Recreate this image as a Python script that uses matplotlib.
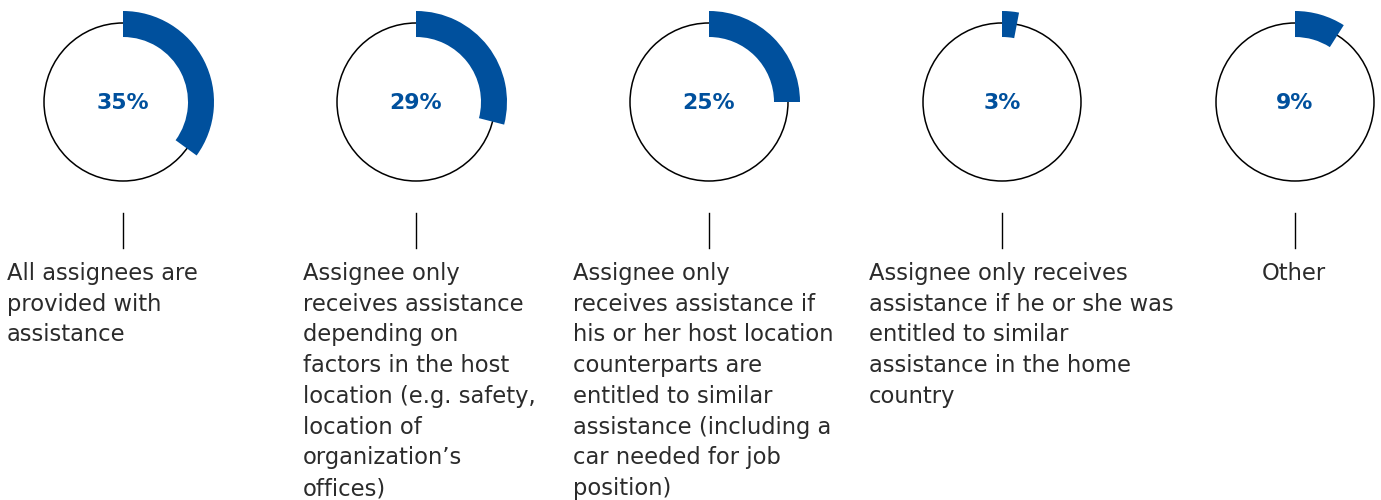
import matplotlib
matplotlib.use("Agg")
import matplotlib.pyplot as plt
from matplotlib.patches import Wedge, Circle

plt.rcParams['font.family'] = ['DejaVu Sans']

values = [35, 29, 25, 3, 9]
labels = [
    "All assignees are\nprovided with\nassistance",
    "Assignee only\nreceives assistance\ndepending on\nfactors in the host\nlocation (e.g. safety,\nlocation of\norganization\u2019s\noffices)",
    "Assignee only\nreceives assistance if\nhis or her host location\ncounterparts are\nentitled to similar\nassistance (including a\ncar needed for job\nposition)",
    "Assignee only receives\nassistance if he or she was\nentitled to similar\nassistance in the home\ncountry",
    "Other",
]

blue = "#00509d"
text_col = "#2b2b2b"

fig = plt.figure(figsize=(13.81, 5), dpi=100)
ax = fig.add_axes([0, 0, 1, 1])
ax.set_xlim(0, 1381)
ax.set_ylim(500, 0)
ax.set_aspect('equal')
ax.axis('off')

centers = [123, 416, 709, 1002, 1295]
text_left = [7, 303, 573, 869, 1262]
cy = 102
r = 79

for i, v in enumerate(values):
    cx = centers[i]
    ax.add_patch(Circle((cx, cy), r, fill=False, ec="black", lw=1.1))
    # y axis is flipped, so angles run clockwise from the top
    ax.add_patch(Wedge((cx, cy), 91, 270, 270 + 360 * v / 100, width=26,
                       fc=blue, ec="none"))
    ax.text(cx, cy + 1, f"{v}%", color=blue, fontsize=15.8, fontweight='bold',
            ha='center', va='center')
    ax.plot([cx, cx], [213, 248], color="black", lw=1)
    ax.text(text_left[i], 262, labels[i], color=text_col, fontsize=16.3,
            ha='left', va='top', linespacing=1.43)

fig.savefig("out.png", dpi=100)
